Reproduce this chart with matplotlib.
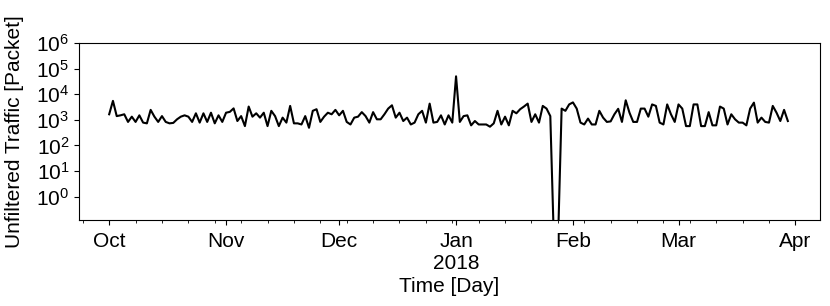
import matplotlib
matplotlib.use("Agg")
import matplotlib.pyplot as plt
import matplotlib.dates as mdates
import matplotlib.ticker as tkr
import pandas as pd

# daily unfiltered traffic, 2017-10-01 .. 2018-03-30
start_day = "2017-10-01"
packets = [
    1650, 5500, 1400, 1500, 1650, 830, 1330, 830, 1500, 780,
    730, 2450, 1330, 830, 1400, 830, 730, 760, 1050, 1330,
    1500, 1330, 830, 1800, 780, 1800, 830, 1900, 730, 1500,
    830, 1900, 2050, 2800, 900, 1400, 570, 3300, 1330, 1800,
    1220, 1900, 570, 2250, 1400, 570, 1220, 780, 3500, 730,
    730, 660, 1400, 490, 2250, 2600, 830, 1330, 1900, 1650,
    2450, 1500, 2250, 830, 660, 1220, 1330, 2000, 1400, 780,
    2000, 1050, 1050, 1650, 2750, 3700, 1220, 1900, 900, 1220,
    660, 780, 1650, 2250, 780, 4300, 780, 830, 1500, 660,
    1500, 780, 50000, 830, 1400, 1500, 610, 900, 660, 660,
    660, 540, 730, 2250, 660, 1330, 610, 2250, 1800, 2600,
    3300, 4300, 830, 1650, 780, 3500, 2750, 1400, 0.01, 0.01,
    2750, 2250, 4000, 4800, 2750, 780, 660, 1120, 660, 660,
    2250, 1220, 830, 870, 1650, 2700, 830, 5800, 1900, 830,
    830, 2750, 2750, 1330, 4000, 3500, 780, 660, 4000, 1650,
    830, 4000, 2750, 570, 570, 4000, 4000, 570, 570, 2000,
    610, 610, 3300, 2750, 660, 1650, 1050, 780, 780, 610,
    2750, 4700, 780, 1220, 830, 780, 3500, 1900, 900, 2450,
    900,
]
days = pd.date_range(start_day, periods=len(packets), freq="D")

plt.rcParams['font.family'] = ['Liberation Sans', 'DejaVu Sans']
plt.rcParams['font.size'] = 15


def month_label(x, pos=None):
    d = mdates.num2date(x)
    if d.month == 1:
        return d.strftime("%b\n%Y")
    return d.strftime("%b")


fig = plt.figure(figsize=(8.3, 3.06), dpi=100)
ax = fig.add_axes([0.0952, 0.281, 0.893, 0.5785])
ax.plot(days, packets, color='black', linewidth=1.5)
ax.set_yscale('log')
ax.set_ylim(10 ** -0.91, 1e6)
ax.set_xlim(pd.Timestamp("2017-09-23"), pd.Timestamp("2018-04-07 14:00"))

ax.yaxis.set_major_locator(tkr.LogLocator(base=10, numticks=10))
ax.yaxis.set_minor_locator(tkr.NullLocator())
ax.xaxis.set_major_locator(mdates.MonthLocator())
ax.xaxis.set_major_formatter(tkr.FuncFormatter(month_label))
ax.xaxis.set_minor_locator(mdates.WeekdayLocator(byweekday=mdates.SU))
ax.tick_params(axis='both', labelsize=15)
ax.tick_params(axis='x', pad=5)
for lab in ax.get_xticklabels():
    lab.set_linespacing(1.2)

ax.set_xlabel("Time [Day]", fontsize=15, labelpad=3)
ax.set_ylabel("Unfiltered Traffic [Packet]", fontsize=15, labelpad=9)

fig.savefig("out.png", dpi=100)
